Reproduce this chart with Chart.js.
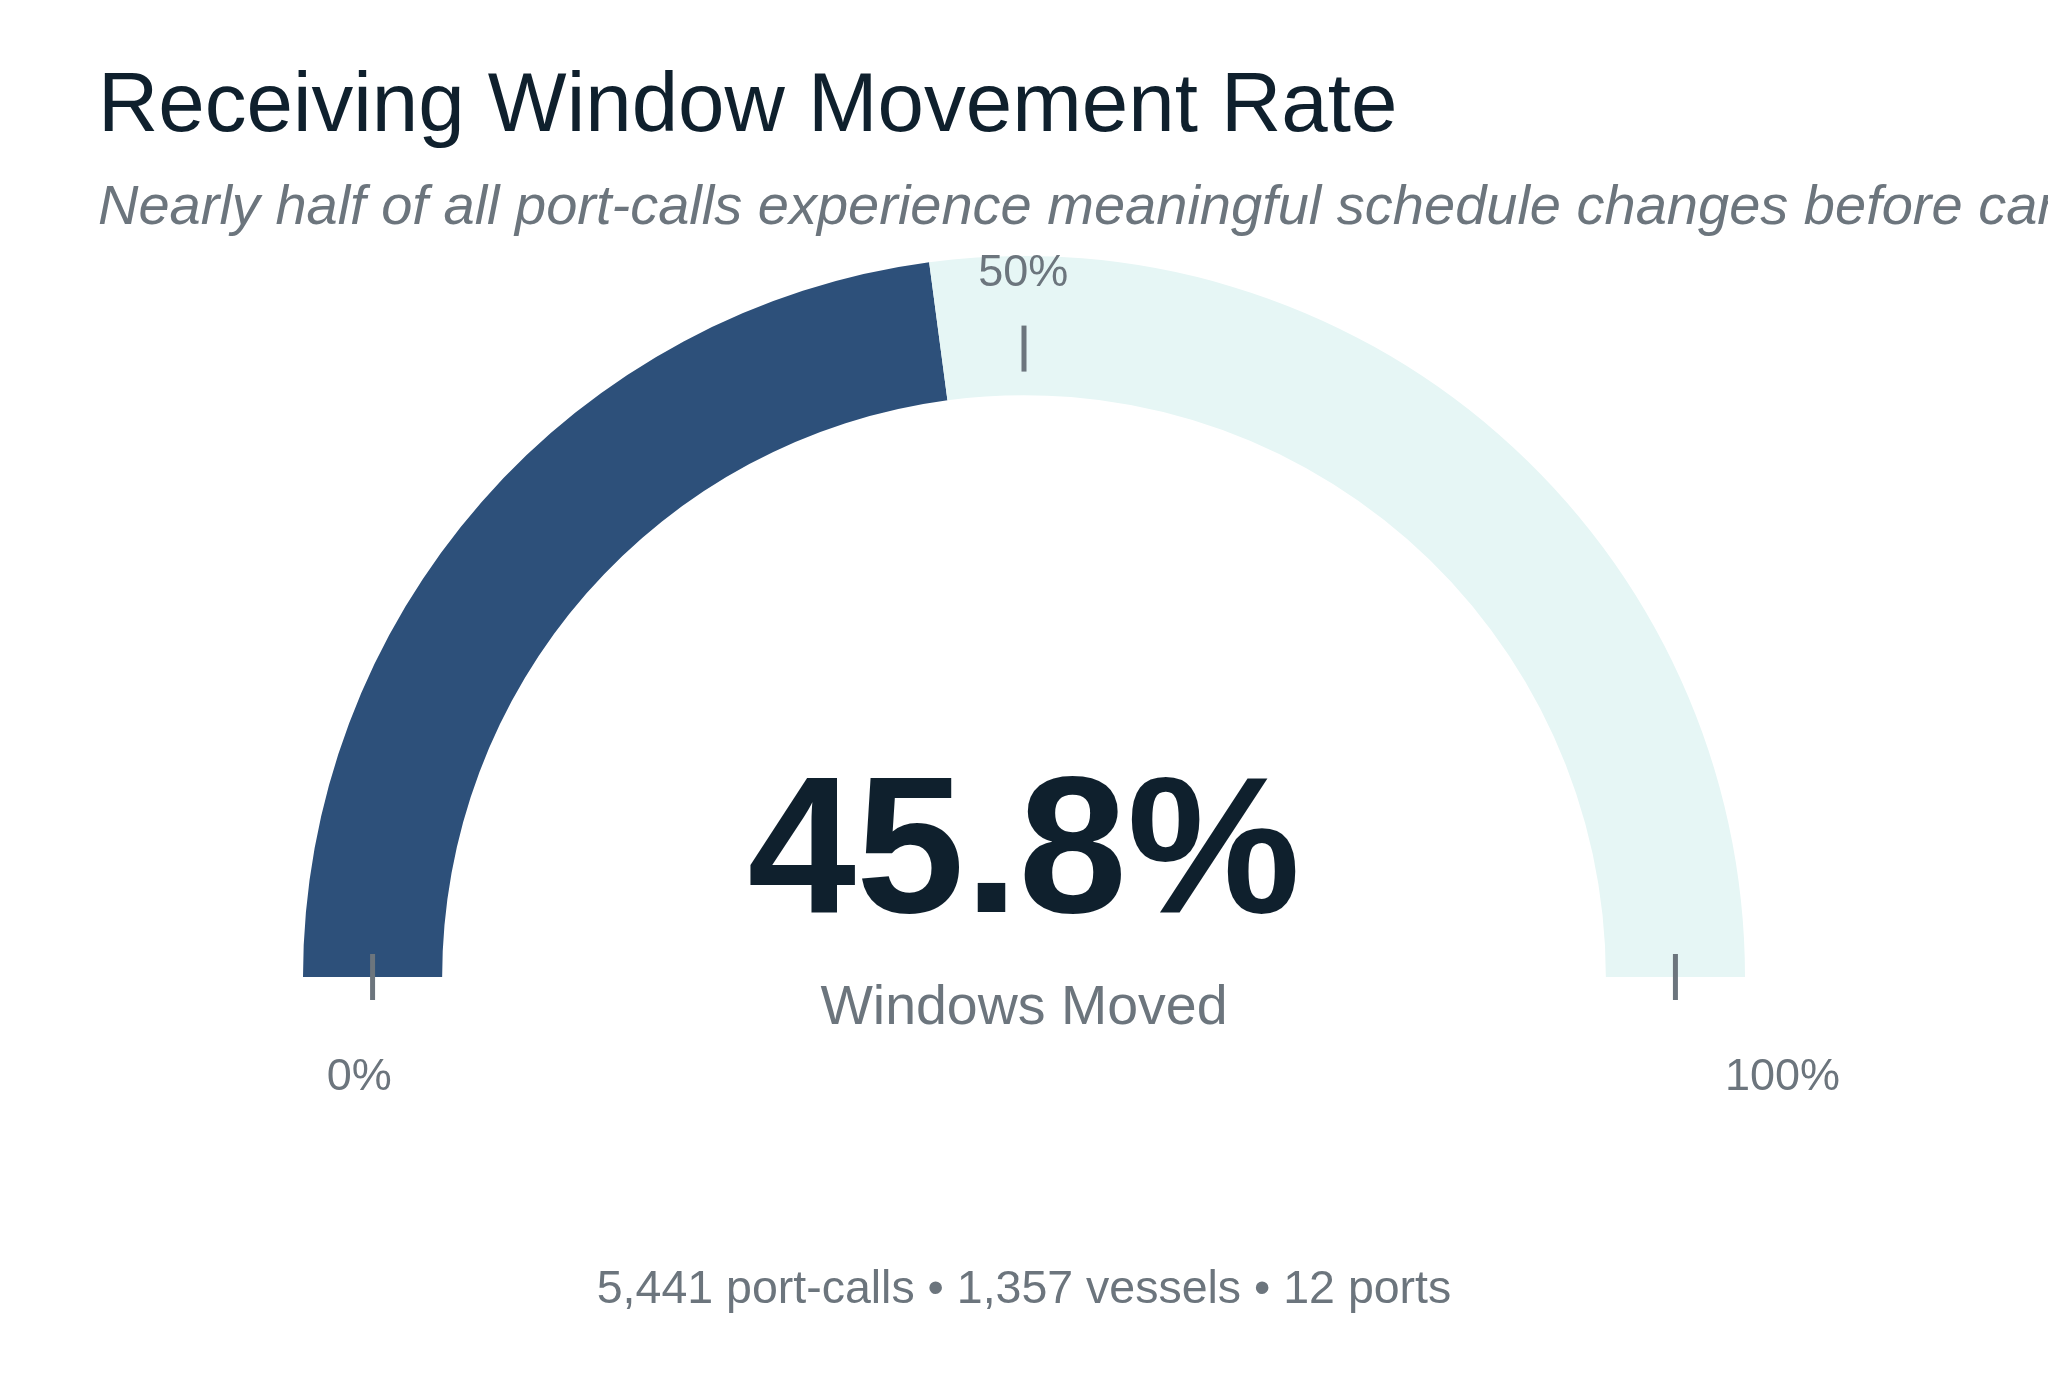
<!DOCTYPE html>
<html>
<head>
<meta charset="utf-8">
<title>Receiving Window Movement Rate</title>
<script src="https://cdn.jsdelivr.net/npm/chart.js@4.4.1/dist/chart.umd.min.js"></script>
<style>
  html, body { margin: 0; padding: 0; background: #ffffff; }
  #chart-wrapper { position: relative; width: 2048px; height: 1397px; }
</style>
</head>
<body>
<div id="chart-wrapper"><canvas id="chart"></canvas></div>
<script>
// chart text
const titleText = "Receiving Window Movement Rate";
const subtitleText = "Nearly half of all port-calls experience meaningful schedule changes before cargo arrives";
const centerLabel = "Windows Moved";
const footerText = "5,441 port-calls \u2022 1,357 vessels \u2022 12 ports";

// gauge data
const categories = ["Windows moved", "Not moved"];
const gaugeValues = [45.8, 54.2];
const headline = "45.8%";

// gauge scale ticks
const tickValues = [0, 50, 100];
const tickLabels = ["0%", "50%", "100%"];

// colors + fonts
const darkBlue = "#2d507a";
const lightTeal = "#e6f6f5";
const ink = "#0f202d";
const grey = "#6c757d";
const fontFamily = '"Liberation Sans", Arial, Helvetica, sans-serif';

// label offsets from the gauge center, in units of the outer radius
const labelOffsets = [
  [-0.922, 0.14],
  [-0.001, -0.976],
  [1.052, 0.14],
];

// draws title, ticks, labels and the center readout
const gaugeText = {
  id: "gaugeText",
  afterDraw(chart) {
    const ctx = chart.ctx;
    const arc = chart.getDatasetMeta(0).data[0];
    const cx = arc.x;
    const cy = arc.y;
    const outer = arc.outerRadius;
    const mid = (arc.innerRadius + arc.outerRadius) / 2;

    ctx.save();

    // title + subtitle (subtitle runs past the edge like the original)
    ctx.textAlign = "left";
    ctx.textBaseline = "alphabetic";
    ctx.fillStyle = ink;
    ctx.font = "83.5px " + fontFamily;
    ctx.fillText(titleText, 98, 131);
    ctx.fillStyle = grey;
    ctx.font = "italic 56px " + fontFamily;
    ctx.fillText(subtitleText, 98, 224);

    // tick marks + labels
    tickValues.forEach((v, i) => {
      const a = -Math.PI + (Math.PI * v) / 100;
      const x = cx + mid * Math.cos(a);
      const y = cy + mid * Math.sin(a);
      const shift = -23 * Math.sin(a);
      ctx.strokeStyle = grey;
      ctx.lineWidth = 5;
      ctx.beginPath();
      ctx.moveTo(x, y - 23 + shift);
      ctx.lineTo(x, y + 23 + shift);
      ctx.stroke();

      ctx.fillStyle = grey;
      ctx.font = "45px " + fontFamily;
      ctx.textAlign = "center";
      ctx.textBaseline = "middle";
      ctx.fillText(
        tickLabels[i],
        cx + labelOffsets[i][0] * outer,
        cy + labelOffsets[i][1] * outer
      );
    });

    // big number in the middle
    ctx.textAlign = "center";
    ctx.textBaseline = "alphabetic";
    ctx.fillStyle = ink;
    ctx.font = "bold 195px " + fontFamily;
    ctx.fillText(headline, cx, cy - 65);

    ctx.fillStyle = grey;
    ctx.font = "55.5px " + fontFamily;
    ctx.fillText(centerLabel, cx, cy + 47);

    // footer
    ctx.font = "46.5px " + fontFamily;
    ctx.fillText(footerText, cx, cy + 326);

    ctx.restore();
  },
};

new Chart(document.getElementById("chart"), {
  type: "doughnut",
  data: {
    labels: categories,
    datasets: [
      {
        data: gaugeValues,
        backgroundColor: [darkBlue, lightTeal],
        borderWidth: 0,
        hoverOffset: 0,
      },
    ],
  },
  options: {
    responsive: true,
    maintainAspectRatio: false,
    animation: false,
    events: [],
    rotation: -90,
    circumference: 180,
    cutout: "80.7%",
    layout: {
      padding: { top: 256, bottom: 420, left: 98, right: 98 },
    },
    plugins: {
      legend: { display: false },
      tooltip: { enabled: false },
      title: { display: false },
    },
  },
  plugins: [gaugeText],
});
</script>
</body>
</html>
